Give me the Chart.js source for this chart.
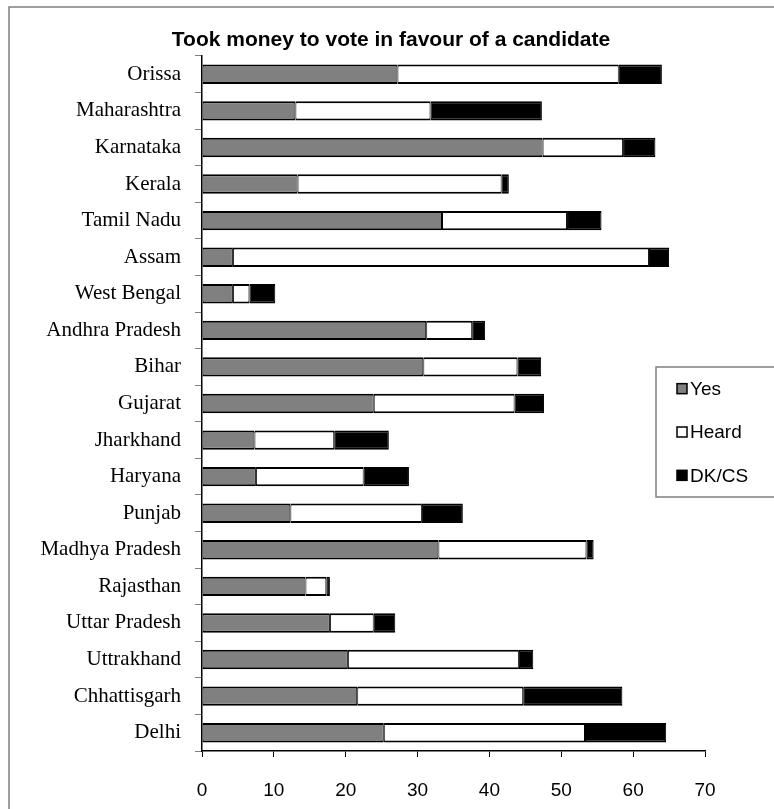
<!DOCTYPE html>
<html lang="en">
<head>
    <meta charset="UTF-8">
    <title>Took money to vote in favour of a candidate</title>
    <script src="https://cdn.jsdelivr.net/npm/chart.js"></script>
    <style>
        body {
            margin: 0;
            padding: 0;
            background-color: #ffffff;
        }
        canvas {
            display: block;
        }
    </style>
</head>
<body>
    <canvas id="voteChart" width="774" height="809"></canvas>

    <script>
        const chartTitle = "Took money to vote in favour of a candidate";
        const states = ["Orissa", "Maharashtra", "Karnataka", "Kerala", "Tamil Nadu", "Assam", "West Bengal",
            "Andhra Pradesh", "Bihar", "Gujarat", "Jharkhand", "Haryana", "Punjab", "Madhya Pradesh",
            "Rajasthan", "Uttar Pradesh", "Uttrakhand", "Chhattisgarh", "Delhi"];
        const yesValues   = [27.2, 13.0, 47.4, 13.3, 33.4, 4.3, 4.3, 31.2, 30.8, 23.9, 7.3, 7.5, 12.3, 32.9, 14.4, 17.8, 20.3, 21.6, 25.3];
        const heardValues = [30.8, 18.8, 11.2, 28.4, 17.4, 57.9, 2.3, 6.4, 13.1, 19.6, 11.1, 15.0, 18.3, 20.6, 2.9, 6.1, 23.8, 23.1, 28.0];
        const dkValues    = [6.0, 15.5, 4.5, 1.0, 4.8, 2.8, 3.6, 1.8, 3.3, 4.1, 7.6, 6.3, 5.7, 1.0, 0.5, 3.0, 2.0, 13.8, 11.3];
        const seriesNames = ["Yes", "Heard", "DK/CS"];
        const xTicks = [0, 10, 20, 30, 40, 50, 60, 70];

        // frame round the whole picture, title and the boxed legend
        const extras = {
            id: "extras",
            beforeDraw(chart) {
                const ctx = chart.ctx;
                ctx.save();
                ctx.fillStyle = "#ffffff";
                ctx.fillRect(0, 0, chart.width, chart.height);
                ctx.strokeStyle = "#7f7f7f";
                ctx.lineWidth = 1.5;
                ctx.strokeRect(9, 7, chart.width + 20, chart.height + 20);
                ctx.restore();
            },
            afterDraw(chart) {
                const ctx = chart.ctx;
                ctx.save();
                ctx.fillStyle = "#000";
                ctx.font = "bold 21px Arial, 'Liberation Sans', sans-serif";
                ctx.textAlign = "center";
                ctx.textBaseline = "middle";
                ctx.fillText(chartTitle, 391, 40);

                // legend box
                const boxX = 656, boxY = 367, boxH = 130;
                ctx.fillStyle = "#fff";
                ctx.fillRect(boxX, boxY, chart.width, boxH);
                ctx.strokeStyle = "#7f7f7f";
                ctx.lineWidth = 1.5;
                ctx.strokeRect(boxX, boxY, chart.width, boxH);
                ctx.font = "19px Arial, 'Liberation Sans', sans-serif";
                ctx.textAlign = "left";
                chart.data.datasets.forEach((ds, i) => {
                    const cy = boxY + boxH / 6 + i * boxH / 3;
                    ctx.fillStyle = ds.backgroundColor;
                    ctx.fillRect(677, cy - 5, 10, 10);
                    ctx.strokeStyle = "#000";
                    ctx.lineWidth = 1.5;
                    ctx.strokeRect(677, cy - 5, 10, 10);
                    ctx.fillStyle = "#000";
                    ctx.fillText(ds.label, 690, cy + 1);
                });
                ctx.restore();
            }
        };

        const segBorder = { top: 2, bottom: 2, left: 1, right: 1 };

        const ctx = document.getElementById("voteChart").getContext("2d");
        new Chart(ctx, {
            type: "bar",
            data: {
                labels: states,
                datasets: [
                    { label: seriesNames[0], data: yesValues, backgroundColor: "#808080" },
                    { label: seriesNames[1], data: heardValues, backgroundColor: "#ffffff" },
                    { label: seriesNames[2], data: dkValues, backgroundColor: "#000000" }
                ].map(d => Object.assign(d, {
                    borderColor: "#000",
                    borderWidth: segBorder,
                    borderSkipped: false,
                    categoryPercentage: 1,
                    barPercentage: 0.53
                }))
            },
            options: {
                indexAxis: "y",
                responsive: false,
                animation: false,
                devicePixelRatio: 1,
                layout: { padding: { top: 56, right: 69, left: 0, bottom: 0 } },
                plugins: {
                    legend: { display: false },
                    title: { display: false },
                    tooltip: { enabled: false }
                },
                scales: {
                    x: {
                        stacked: true,
                        min: 0,
                        max: 70,
                        afterBuildTicks: s => { s.ticks = xTicks.map(v => ({ value: v })); },
                        afterFit: s => { s.height = 58; },
                        grid: { drawOnChartArea: false, tickLength: 6, color: "#000", lineWidth: 1 },
                        border: { color: "#000", width: 1.5 },
                        ticks: {
                            color: "#000",
                            padding: 22,
                            font: { family: "Arial, 'Liberation Sans', sans-serif", size: 19 }
                        }
                    },
                    y: {
                        stacked: true,
                        afterFit: s => { s.width = 202; },
                        grid: { drawOnChartArea: false, tickLength: 7, color: "#7f7f7f", lineWidth: 1, offset: true },
                        border: { color: "#000", width: 1.5 },
                        ticks: {
                            color: "#000",
                            padding: 14,
                            autoSkip: false,
                            font: { family: "'Times New Roman', 'Liberation Serif', serif", size: 21 }
                        }
                    }
                }
            },
            plugins: [extras]
        });
    </script>
</body>
</html>
